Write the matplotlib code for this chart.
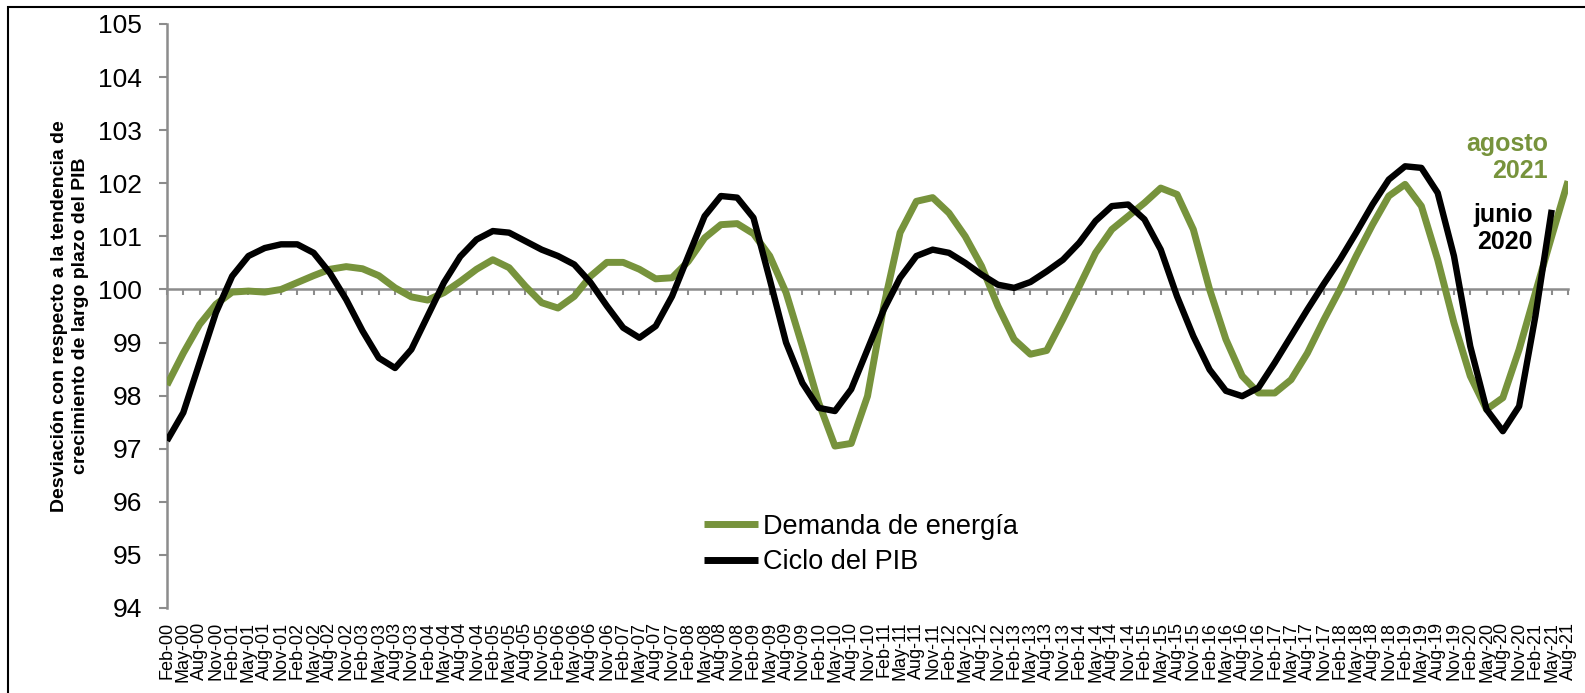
import numpy as np
import matplotlib
matplotlib.use('Agg')
import matplotlib.pyplot as plt
from matplotlib.patches import Rectangle

plt.rcParams['font.family'] = ['Liberation Sans', 'DejaVu Sans']

# trimestres Feb-00 ... Aug-21
meses = ['Feb', 'May', 'Aug', 'Nov']
etiquetas = [f'{m}-{a:02d}' for a in range(0, 22) for m in meses][:87]

# Demanda de energía (desviación respecto a la tendencia)
demanda = [98.2, 98.8, 99.34, 99.72, 99.95, 99.97, 99.95, 100.0, 100.13, 100.26,
           100.38, 100.43, 100.39, 100.26, 100.03, 99.86, 99.8, 99.94, 100.15, 100.38,
           100.56, 100.41, 100.06, 99.75, 99.65, 99.87, 100.25, 100.51, 100.51, 100.38,
           100.2, 100.22, 100.53, 100.97, 101.22, 101.24, 101.05, 100.63, 99.94, 98.93,
           97.87, 97.05, 97.1, 97.99, 99.69, 101.07, 101.66, 101.73, 101.44, 101.0,
           100.44, 99.69, 99.06, 98.78, 98.85, 99.44, 100.06, 100.69, 101.13, 101.38,
           101.63, 101.91, 101.79, 101.13, 100.0, 99.06, 98.37, 98.05, 98.05, 98.3,
           98.8, 99.42, 100.0, 100.63, 101.22, 101.76, 101.98, 101.57, 100.56, 99.37,
           98.37, 97.74, 97.96, 98.87, 99.94, 101.0, 102.04]

# Ciclo del PIB
pib = [97.15, 97.68, 98.62, 99.56, 100.25, 100.63, 100.78, 100.85, 100.85, 100.69,
       100.31, 99.81, 99.22, 98.71, 98.52, 98.87, 99.5, 100.13, 100.62, 100.94,
       101.1, 101.07, 100.91, 100.75, 100.63, 100.47, 100.13, 99.69, 99.28, 99.09,
       99.31, 99.87, 100.63, 101.38, 101.76, 101.73, 101.35, 100.19, 99.0, 98.24,
       97.77, 97.71, 98.12, 98.87, 99.62, 100.22, 100.63, 100.75, 100.69, 100.5,
       100.28, 100.09, 100.03, 100.14, 100.34, 100.56, 100.88, 101.29, 101.57, 101.6,
       101.32, 100.75, 99.87, 99.12, 98.49, 98.09, 97.99, 98.15, 98.62, 99.12,
       99.62, 100.1, 100.56, 101.07, 101.6, 102.07, 102.32, 102.29, 101.82, 100.63,
       98.93, 97.74, 97.33, 97.8, 99.5, 101.5]

verde = '#77933C'
gris = '#8c8c8c'

fig = plt.figure(figsize=(15.85, 6.93), dpi=100)
fig.patch.set_facecolor('white')
ax = fig.add_axes([167/1585, 1 - 608/693, (1568 - 167)/1585, (608 - 24)/693])

x = np.arange(len(etiquetas))
ax.plot(x[:len(demanda)], demanda, color=verde, lw=5.0, solid_joinstyle='round',
        solid_capstyle='butt', label='Demanda de energía', zorder=3)
ax.plot(x[:len(pib)], pib, color='black', lw=4.6, solid_joinstyle='round',
        solid_capstyle='butt', label='Ciclo del PIB', zorder=4)

ax.set_xlim(0, len(etiquetas) - 1)
ax.set_ylim(94, 105)
ax.set_yticks(range(94, 106))
ax.tick_params(axis='y', labelsize=19, length=6, width=1.5, color=gris, pad=12)

for s in ['top', 'right']:
    ax.spines[s].set_visible(False)
ax.spines['left'].set_color(gris)
ax.spines['left'].set_linewidth(1.8)
ax.spines['bottom'].set_position(('data', 100))
ax.spines['bottom'].set_color(gris)
ax.spines['bottom'].set_linewidth(1.8)
ax.set_xticks(x)
ax.tick_params(axis='x', direction='out', length=4, width=1.5, color=gris,
               labelbottom=False)

# etiquetas del eje x abajo
sec = ax.secondary_xaxis(0)
sec.set_xticks(x)
sec.set_xticklabels(etiquetas, rotation=90, fontsize=13)
sec.tick_params(length=0, pad=10)
sec.spines['bottom'].set_visible(False)

ax.set_ylabel('Desviación con respecto a la tendencia de\ncrecimiento de largo plazo del PIB',
              fontsize=14, fontweight='bold', linespacing=1.3)
ax.yaxis.set_label_coords(-0.056, 0.5)

leg = ax.legend(loc='upper left', bbox_to_anchor=(690/1585, 1 - 500/693),
                bbox_transform=fig.transFigure, frameon=False, fontsize=19.5,
                handlelength=2.0, handletextpad=0.2, labelspacing=0.35, borderpad=0)
for l in leg.get_lines():
    l.set_linewidth(5)

fig.text(1548/1585, 1 - 132/693, 'agosto\n2021', color=verde, fontsize=18,
         fontweight='bold', ha='right', va='top', linespacing=1.15)
fig.text(1533/1585, 1 - 203/693, 'junio\n2020', color='black', fontsize=18,
         fontweight='bold', ha='right', va='top', linespacing=1.15)

# marco exterior
fig.patches.append(Rectangle((8/1585, -0.1), 1.2, 1 - 7/693 + 0.1,
                             transform=fig.transFigure, fill=False,
                             edgecolor='black', lw=1.5))

fig.savefig('out.png', dpi=100, facecolor='white')
